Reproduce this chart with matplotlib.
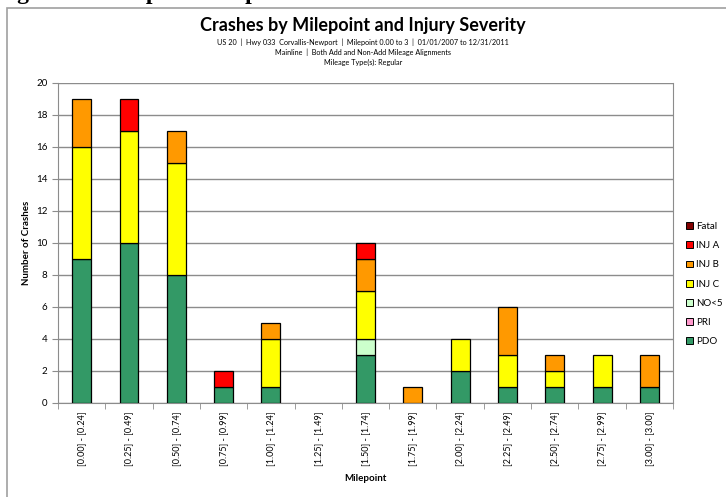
import numpy as np
import matplotlib
matplotlib.use("Agg")
import matplotlib.pyplot as plt
from matplotlib.patches import Rectangle, Patch

plt.rcParams['font.family'] = ['Lato', 'DejaVu Sans']

# Milepoint bins and crash counts by severity
categories = ['[0.00] - [0.24]', '[0.25] - [0.49]', '[0.50] - [0.74]', '[0.75] - [0.99]',
              '[1.00] - [1.24]', '[1.25] - [1.49]', '[1.50] - [1.74]', '[1.75] - [1.99]',
              '[2.00] - [2.24]', '[2.25] - [2.49]', '[2.50] - [2.74]', '[2.75] - [2.99]',
              '[3.00] - [3.00]']
pdo   = [9, 10, 8, 1, 1, 0, 3, 0, 2, 1, 1, 1, 1]
pri   = [0, 0, 0, 0, 0, 0, 0, 0, 0, 0, 0, 0, 0]
no5   = [0, 0, 0, 0, 0, 0, 1, 0, 0, 0, 0, 0, 0]
inj_c = [7, 7, 7, 0, 3, 0, 3, 0, 2, 2, 1, 2, 0]
inj_b = [3, 0, 2, 0, 1, 0, 2, 1, 0, 3, 1, 0, 2]
inj_a = [0, 2, 0, 1, 0, 0, 1, 0, 0, 0, 0, 0, 0]
fatal = [0, 0, 0, 0, 0, 0, 0, 0, 0, 0, 0, 0, 0]

series = [('PDO', pdo, '#339966'), ('PRI', pri, '#FF99CC'), ('NO<5', no5, '#CCFFCC'),
          ('INJ C', inj_c, '#FFFF00'), ('INJ B', inj_b, '#FF9900'),
          ('INJ A', inj_a, '#FF0000'), ('Fatal', fatal, '#800000')]

fig = plt.figure(figsize=(7.26, 4.97), dpi=100)
W, H = 726, 497

# chart frame (cropped from a larger page)
fig.patches.append(Rectangle((7 / W, -0.1), 1.2, 1 - 8 / H + 0.1, transform=fig.transFigure,
                             fill=False, edgecolor='#A0A0A0', linewidth=1.2, zorder=0))
fig.text(-0.005, 1 + 1 / H, 'Figure 3:  Milepoint Graph', family='Liberation Serif',
         fontweight='bold', fontsize=17, va='baseline', ha='left')

ax = fig.add_axes([58 / W, 1 - 403 / H, (673 - 58) / W, (403 - 83) / H])
x = np.arange(len(categories))
bottom = np.zeros(len(categories))
handles = []
for name, vals, color in series:
    vals = np.array(vals, dtype=float)
    bars = ax.bar(x, vals, width=0.4, bottom=bottom, color=color, edgecolor='black',
                  linewidth=0.9, zorder=3)
    for b, v in zip(bars, vals):
        if v == 0:
            b.set_visible(False)
    handles.append(Patch(facecolor=color, edgecolor='black', linewidth=0.7, label=name))
    bottom += vals

ax.set_xlim(-0.5, len(categories) - 0.5)
ax.set_ylim(0, 20)
ax.set_yticks(range(0, 21, 2))
ax.yaxis.grid(True, color='#8C8C8C', linewidth=1, zorder=0)
ax.set_xticks(x)
ax.set_xticklabels(categories, rotation=90, fontsize=6.5)
ax.set_xticks(np.arange(-0.5, len(categories), 1), minor=True)
ax.tick_params(axis='x', which='major', length=0, pad=6)
ax.tick_params(axis='x', which='minor', length=4, color='#8C8C8C')
ax.tick_params(axis='y', length=4, color='#8C8C8C', labelsize=7)
for s in ['left', 'bottom', 'right', 'top']:
    ax.spines[s].set_color('#8C8C8C')
ax.spines['top'].set_visible(False)

ax.set_xlabel('Milepoint', fontsize=7, fontweight='bold', labelpad=6)
ax.set_ylabel('Number of Crashes', fontsize=7, fontweight='bold', labelpad=4)

fig.text(0.5, 1 - 26 / H, 'Crashes by Milepoint and Injury Severity', ha='center', va='center',
         fontsize=13, fontweight='bold')
fig.text(0.5, 1 - 42 / H, 'US 20  |  Hwy 033  Corvallis-Newport  |  Milepoint 0.00 to 3  |  01/01/2007 to 12/31/2011',
         ha='center', va='center', fontsize=5.2)
fig.text(0.5, 1 - 52 / H, 'Mainline  |  Both Add and Non-Add Mileage Alignments',
         ha='center', va='center', fontsize=5.2)
fig.text(0.5, 1 - 62 / H, 'Mileage Type(s): Regular', ha='center', va='center', fontsize=5.2)

leg = fig.legend(handles=handles[::-1], loc='upper left',
                 bbox_to_anchor=(686 / W, 1 - 222 / H), frameon=False, fontsize=7,
                 handlelength=0.7, handleheight=0.7, handletextpad=0.3, labelspacing=1.05,
                 borderaxespad=0, borderpad=0)

fig.savefig('out.png', dpi=100)
